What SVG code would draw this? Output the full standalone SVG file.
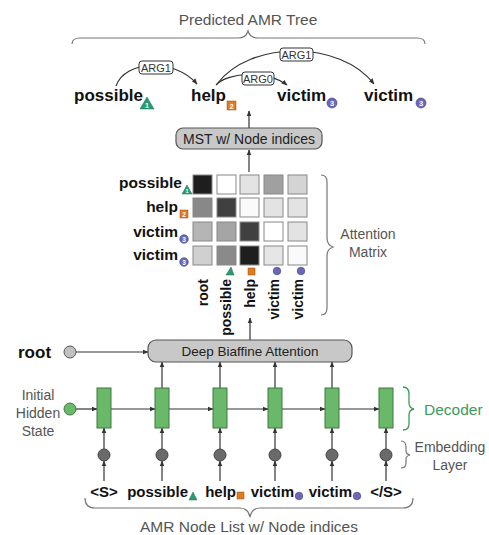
<svg xmlns="http://www.w3.org/2000/svg" width="489" height="535" viewBox="0 0 489 535">
<defs>
<marker id="ah" viewBox="0 0 10 10" refX="9" refY="5" markerWidth="6" markerHeight="6" orient="auto" markerUnits="userSpaceOnUse">
<path d="M0,1 L10,5 L0,9 Z" fill="#333"/>
</marker>
<style>
text{font-family:"Liberation Sans",Arial,sans-serif}
.b{font-weight:bold;fill:#111}
.g{fill:#555}
.e{stroke:#333;stroke-width:1.2;fill:none;marker-end:url(#ah)}
.br{stroke:#777;stroke-width:1.2;fill:none}
.lab{fill:#fff;stroke:#333;stroke-width:1}
.lt{font-size:11px;fill:#333;text-anchor:middle}
.tri{fill:#2a9a70;stroke:#1f6e50;stroke-width:0.5}
.sq{fill:#e07b20;stroke:#9a4d10;stroke-width:0.5}
.ci{fill:#6b68b8;stroke:#3f3d80;stroke-width:0.6}
.it{fill:#fff;font-weight:bold;text-anchor:middle}
.cell{stroke:#888;stroke-width:1}
.gr{fill:#6ab86a;stroke:#3d7a3d;stroke-width:1}
.gc{fill:#6a6a6a;stroke:#444;stroke-width:1}
.box{fill:#c8c8c8;stroke:#555;stroke-width:1.2}
</style>
</defs>

<!-- top title and brace -->
<text x="248" y="25" class="g" font-size="15.5" text-anchor="middle">Predicted AMR Tree</text>
<path class="br" d="M72,44 Q72,38 80,38 L238,38 Q246,38 248,31 Q250,38 258,38 L417,38 Q425,38 425,44"/>

<!-- connectors -->
<g id="connectors">
<path class="e" d="M116,86 C125,60 175,58 197,84"/>
<path class="e" d="M216,85 C228,72 268,70 287,85"/>
<path class="e" d="M217,84 C250,40 340,40 374,84"/>
<line class="e" x1="249" y1="128" x2="249" y2="111"/>
<line class="e" x1="249" y1="172" x2="249" y2="150"/>
<line class="e" x1="250" y1="340" x2="250" y2="318"/>
<line class="e" x1="76" y1="352" x2="148" y2="352"/>
<line class="e" x1="76" y1="409" x2="97" y2="409"/>
<line class="e" x1="111" y1="409" x2="155" y2="409"/>
<line class="e" x1="169" y1="409" x2="213" y2="409"/>
<line class="e" x1="227" y1="409" x2="268" y2="409"/>
<line class="e" x1="282" y1="409" x2="325" y2="409"/>
<line class="e" x1="339" y1="409" x2="379" y2="409"/>
<line class="e" x1="162" y1="388" x2="162" y2="362"/>
<line class="e" x1="220" y1="388" x2="220" y2="362"/>
<line class="e" x1="275" y1="388" x2="275" y2="362"/>
<line class="e" x1="332" y1="388" x2="332" y2="362"/>
<line class="e" x1="104" y1="449" x2="104" y2="428"/>
<line class="e" x1="162" y1="449" x2="162" y2="428"/>
<line class="e" x1="220" y1="449" x2="220" y2="428"/>
<line class="e" x1="275" y1="449" x2="275" y2="428"/>
<line class="e" x1="332" y1="449" x2="332" y2="428"/>
<line class="e" x1="386" y1="449" x2="386" y2="428"/>
<line class="e" x1="104" y1="481" x2="104" y2="461"/>
<line class="e" x1="162" y1="481" x2="162" y2="461"/>
<line class="e" x1="220" y1="481" x2="220" y2="461"/>
<line class="e" x1="275" y1="481" x2="275" y2="461"/>
<line class="e" x1="332" y1="481" x2="332" y2="461"/>
<line class="e" x1="386" y1="481" x2="386" y2="461"/>
</g>

<!-- edge labels -->
<g id="lbl-arg1a"><rect class="lab" x="139" y="61" width="34" height="13" rx="3"/><text class="lt" x="156" y="71.5">ARG1</text></g>
<g id="lbl-arg0"><rect class="lab" x="242" y="72" width="32" height="13" rx="3"/><text class="lt" x="258" y="82.5">ARG0</text></g>
<g id="lbl-arg1b"><rect class="lab" x="280" y="48" width="33" height="13" rx="3"/><text class="lt" x="296.5" y="58.5">ARG1</text></g>

<!-- top tree nodes -->
<g id="t-possible"><text x="74" y="101" class="b" font-size="17">possible</text><polygon class="tri" points="140,109 147,97 154,109"/><text class="it" x="147" y="108" font-size="7">1</text></g>
<g id="t-help"><text x="191" y="101" class="b" font-size="17">help</text><rect class="sq" x="227" y="101" width="9" height="9"/><text class="it" x="231.5" y="108.5" font-size="7.5">2</text></g>
<g id="t-victim1"><text x="277" y="101" class="b" font-size="17">victim</text><circle class="ci" cx="332" cy="103" r="5"/><text class="it" x="332" y="106" font-size="7.5">3</text></g>
<g id="t-victim2"><text x="364" y="101" class="b" font-size="17">victim</text><circle class="ci" cx="421" cy="103" r="5"/><text class="it" x="421" y="106" font-size="7.5">3</text></g>

<!-- MST box -->
<g id="mst"><rect class="box" x="176" y="128" width="146" height="21" rx="7"/><text x="249" y="143.5" font-size="14" text-anchor="middle" fill="#222">MST w/ Node indices</text></g>

<!-- attention matrix -->
<g id="matrix">
<rect class="cell" x="193" y="175" width="19" height="19" fill="#1e1e1e"/>
<rect class="cell" x="217" y="175" width="19" height="19" fill="#ffffff"/>
<rect class="cell" x="240" y="175" width="19" height="19" fill="#e3e3e3"/>
<rect class="cell" x="264" y="175" width="19" height="19" fill="#a0a0a0"/>
<rect class="cell" x="288" y="175" width="19" height="19" fill="#d4d4d4"/>
<rect class="cell" x="193" y="198" width="19" height="19" fill="#888888"/>
<rect class="cell" x="217" y="198" width="19" height="19" fill="#404040"/>
<rect class="cell" x="240" y="198" width="19" height="19" fill="#fafafa"/>
<rect class="cell" x="264" y="198" width="19" height="19" fill="#e3e3e3"/>
<rect class="cell" x="288" y="198" width="19" height="19" fill="#e3e3e3"/>
<rect class="cell" x="193" y="222" width="19" height="19" fill="#b5b5b5"/>
<rect class="cell" x="217" y="222" width="19" height="19" fill="#a5a5a5"/>
<rect class="cell" x="240" y="222" width="19" height="19" fill="#404040"/>
<rect class="cell" x="264" y="222" width="19" height="19" fill="#ffffff"/>
<rect class="cell" x="288" y="222" width="19" height="19" fill="#e3e3e3"/>
<rect class="cell" x="193" y="246" width="19" height="19" fill="#d0d0d0"/>
<rect class="cell" x="217" y="246" width="19" height="19" fill="#8a8a8a"/>
<rect class="cell" x="240" y="246" width="19" height="19" fill="#1e1e1e"/>
<rect class="cell" x="264" y="246" width="19" height="19" fill="#e6e6e6"/>
<rect class="cell" x="288" y="246" width="19" height="19" fill="#fafafa"/>
</g>

<!-- matrix row labels -->
<g id="row-possible"><text x="182" y="188" class="b" font-size="15.5" text-anchor="end">possible</text><polygon class="tri" points="182,194 187,185 192,194"/><text class="it" x="187" y="193" font-size="5.5">1</text></g>
<g id="row-help"><text x="178" y="212" class="b" font-size="15.5" text-anchor="end">help</text><rect class="sq" x="180" y="210" width="8" height="8"/><text class="it" x="184" y="216.5" font-size="6.5">2</text></g>
<g id="row-victim1"><text x="178" y="237" class="b" font-size="15.5" text-anchor="end">victim</text><circle class="ci" cx="184" cy="239" r="4.3"/><text class="it" x="184" y="241.5" font-size="6.5">3</text></g>
<g id="row-victim2"><text x="178" y="260" class="b" font-size="15.5" text-anchor="end">victim</text><circle class="ci" cx="184" cy="262" r="4.3"/><text class="it" x="184" y="264.5" font-size="6.5">3</text></g>

<!-- matrix column labels -->
<g id="col-root"><text class="b" font-size="14" text-anchor="end" transform="translate(207.5,279) rotate(-90)">root</text></g>
<g id="col-possible"><text class="b" font-size="14" text-anchor="end" transform="translate(231,279) rotate(-90)">possible</text><polygon class="tri" points="226,275 234,275 231,267"/></g>
<g id="col-help"><text class="b" font-size="14" text-anchor="end" transform="translate(254.5,279) rotate(-90)">help</text><rect class="sq" x="248" y="268" width="7" height="7"/></g>
<g id="col-victim1"><text class="b" font-size="14" text-anchor="end" transform="translate(278.5,279) rotate(-90)">victim</text><circle class="ci" cx="277" cy="271" r="3.8"/></g>
<g id="col-victim2"><text class="b" font-size="14" text-anchor="end" transform="translate(302.5,279) rotate(-90)">victim</text><circle class="ci" cx="301" cy="271" r="3.8"/></g>

<!-- attention matrix brace -->
<path class="br" d="M321,175 Q327,175 327,182 L327,238 Q327,245 333,247 Q327,249 327,256 L327,308 Q327,315 321,315"/>
<text x="368" y="239" class="g" font-size="14" text-anchor="middle">Attention</text>
<text x="368" y="257" class="g" font-size="14" text-anchor="middle">Matrix</text>

<!-- biaffine -->
<g id="biaffine"><rect class="box" x="148" y="340" width="204" height="22" rx="8"/><text x="250" y="356" font-size="13.5" text-anchor="middle" fill="#222">Deep Biaffine Attention</text></g>

<!-- root input -->
<g id="root-in"><text x="18" y="358" class="b" font-size="17">root</text><circle cx="70" cy="352" r="6" fill="#c0c0c0" stroke="#555" stroke-width="1"/></g>

<!-- initial hidden state -->
<g id="init"><text x="38" y="400" class="g" font-size="14" text-anchor="middle">Initial</text><text x="38" y="418" class="g" font-size="14" text-anchor="middle">Hidden</text><text x="38" y="436" class="g" font-size="14" text-anchor="middle">State</text><circle cx="70" cy="409" r="6" fill="#6ab86a" stroke="#3d7a3d" stroke-width="1"/></g>

<!-- decoder cells -->
<g id="dec1"><rect class="gr" x="97" y="388" width="14" height="40"/></g>
<g id="dec2"><rect class="gr" x="155" y="388" width="14" height="40"/></g>
<g id="dec3"><rect class="gr" x="213" y="388" width="14" height="40"/></g>
<g id="dec4"><rect class="gr" x="268" y="388" width="14" height="40"/></g>
<g id="dec5"><rect class="gr" x="325" y="388" width="14" height="40"/></g>
<g id="dec6"><rect class="gr" x="379" y="388" width="14" height="40"/></g>

<!-- embeddings -->
<g id="emb1"><circle class="gc" cx="104" cy="455" r="6"/></g>
<g id="emb2"><circle class="gc" cx="162" cy="455" r="6"/></g>
<g id="emb3"><circle class="gc" cx="220" cy="455" r="6"/></g>
<g id="emb4"><circle class="gc" cx="275" cy="455" r="6"/></g>
<g id="emb5"><circle class="gc" cx="332" cy="455" r="6"/></g>
<g id="emb6"><circle class="gc" cx="386" cy="455" r="6"/></g>

<!-- decoder / embedding braces -->
<path d="M403,387 Q409,387 409,394 L409,403 Q409,408 414,409 Q409,410 409,415 L409,424 Q409,430 403,430" stroke="#3d9a5a" stroke-width="1.3" fill="none"/>
<text x="424" y="415" font-size="15.5" fill="#3d9a5a">Decoder</text>
<path class="br" d="M401,441 Q406,441 406,447 L406,451 Q406,454 410,455 Q406,456 406,459 L406,463 Q406,468 401,468"/>
<text x="450" y="452" class="g" font-size="14" text-anchor="middle">Embedding</text>
<text x="450" y="470" class="g" font-size="14" text-anchor="middle">Layer</text>

<!-- input tokens -->
<g id="tok-s"><text x="104" y="497" class="b" font-size="15" text-anchor="middle">&lt;S&gt;</text></g>
<g id="tok-possible"><text x="188" y="497" class="b" font-size="15" text-anchor="end">possible</text><polygon class="tri" points="189,500 193,492 197,500"/></g>
<g id="tok-help"><text x="236" y="497" class="b" font-size="15" text-anchor="end">help</text><rect class="sq" x="237" y="492" width="7" height="7"/></g>
<g id="tok-victim1"><text x="294" y="497" class="b" font-size="15" text-anchor="end">victim</text><circle class="ci" cx="299" cy="496" r="3.8"/></g>
<g id="tok-victim2"><text x="352" y="497" class="b" font-size="15" text-anchor="end">victim</text><circle class="ci" cx="357" cy="496" r="3.8"/></g>
<g id="tok-es"><text x="386" y="497" class="b" font-size="15" text-anchor="middle">&lt;/S&gt;</text></g>

<!-- bottom brace and title -->
<path class="br" d="M85,498 Q85,508 95,508 L240,508 Q248,508 250,517 Q252,508 260,508 L403,508 Q413,508 413,498"/>
<text x="249" y="532" class="g" font-size="15.5" text-anchor="middle">AMR Node List w/ Node indices</text>
</svg>
